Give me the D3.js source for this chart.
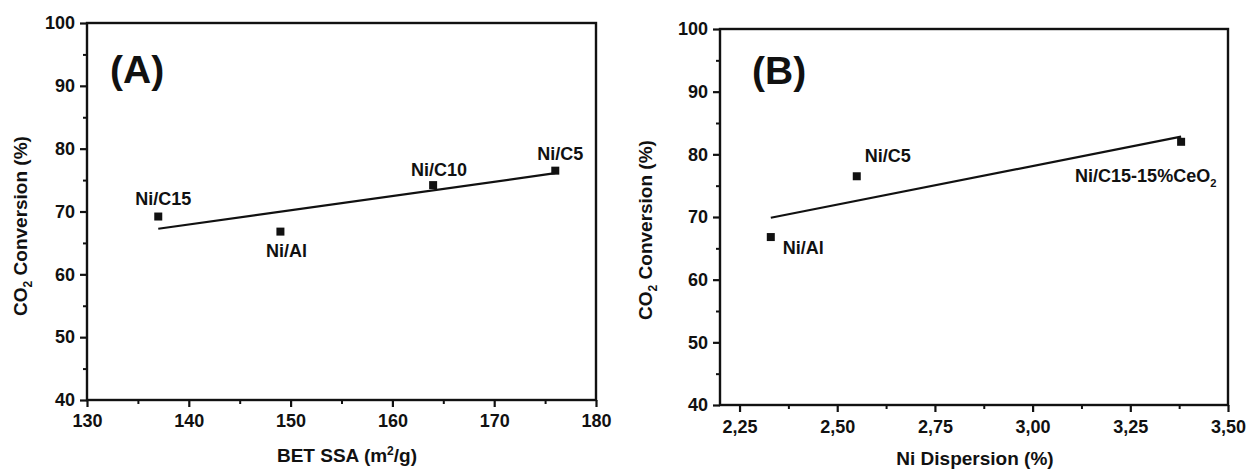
<!DOCTYPE html>
<html>
<head>
<meta charset="utf-8">
<script src="https://cdn.jsdelivr.net/npm/d3@7"></script>
<style>
  html, body { margin: 0; padding: 0; background: #ffffff; }
  svg { display: block; }
  text { font-family: "Liberation Sans", Arial, sans-serif; font-weight: bold; fill: #111; }
</style>
</head>
<body>
<svg id="chart" width="1249" height="470"></svg>
<script>
// ---------------- data ----------------
const samplesA = ["Ni/C15", "Ni/Al", "Ni/C10", "Ni/C5"];
const betSSA = [137, 149, 164, 176];
const conversionA = [69.2, 66.8, 74.2, 76.5];

const samplesB = ["Ni/Al", "Ni/C5", "Ni/C15-15%CeO2"];
const niDispersion = [2.33, 2.55, 3.38];
const conversionB = [66.8, 76.5, 82.0];

const yTicks = [40, 50, 60, 70, 80, 90, 100];
const yMinorTicks = [45, 55, 65, 75, 85, 95];
const xTicksA = [130, 140, 150, 160, 170, 180];
const xMinorTicksA = [135, 145, 155, 165, 175];
const xTicksB = [2.25, 2.50, 2.75, 3.00, 3.25, 3.50];
const xMinorTicksB = [2.375, 2.625, 2.875, 3.125, 3.375];

// ---------------- helpers ----------------
const svg = d3.select("#chart");
const commaFmt = d3.formatLocale({decimal: ",", thousands: ".", grouping: [3], currency: ["", ""]}).format(".2f");

function linReg(xs, ys) {
  const mx = d3.mean(xs), my = d3.mean(ys);
  let sxy = 0, sxx = 0;
  xs.forEach((x, i) => { sxy += (x - mx) * (ys[i] - my); sxx += (x - mx) * (x - mx); });
  const b = sxy / sxx;
  return x => my + b * (x - mx);
}

const TICK_FS = 18, LABEL_FS = 18, TITLE_FS = 19;

function drawPanel(cfg) {
  const g = svg.append("g");
  const x = d3.scaleLinear().domain(cfg.xDomain).range([cfg.left, cfg.right]);
  const y = d3.scaleLinear().domain([40, 100]).range([cfg.bottom, cfg.top]);

  // minor ticks
  g.append("g").attr("transform", `translate(0,${cfg.bottom})`)
    .call(d3.axisBottom(x).tickValues(cfg.xMinor).tickSize(4).tickSizeOuter(0).tickFormat(""))
    .call(a => a.select(".domain").remove())
    .call(a => a.selectAll("line").attr("stroke", "#111").attr("stroke-width", 2));
  g.append("g").attr("transform", `translate(${cfg.left},0)`)
    .call(d3.axisLeft(y).tickValues(yMinorTicks).tickSize(4).tickSizeOuter(0).tickFormat(""))
    .call(a => a.select(".domain").remove())
    .call(a => a.selectAll("line").attr("stroke", "#111").attr("stroke-width", 2));

  // major ticks
  g.append("g").attr("transform", `translate(0,${cfg.bottom})`)
    .call(d3.axisBottom(x).tickValues(cfg.xTicks).tickSize(7).tickPadding(cfg.xPad).tickSizeOuter(0).tickFormat(cfg.xFormat))
    .call(a => a.select(".domain").remove())
    .call(a => a.selectAll("line").attr("stroke", "#111").attr("stroke-width", 2.2))
    .call(a => a.selectAll("text").attr("font-size", TICK_FS).attr("font-family", "Liberation Sans, Arial, sans-serif").attr("font-weight", "bold").attr("fill", "#111"));
  g.append("g").attr("transform", `translate(${cfg.left},0)`)
    .call(d3.axisLeft(y).tickValues(yTicks).tickSize(7).tickPadding(5).tickSizeOuter(0))
    .call(a => a.select(".domain").remove())
    .call(a => a.selectAll("line").attr("stroke", "#111").attr("stroke-width", 2.2))
    .call(a => a.selectAll("text").attr("font-size", TICK_FS).attr("font-family", "Liberation Sans, Arial, sans-serif").attr("font-weight", "bold").attr("fill", "#111"));

  // frame
  g.append("rect")
    .attr("x", cfg.left).attr("y", cfg.top)
    .attr("width", cfg.right - cfg.left).attr("height", cfg.bottom - cfg.top)
    .attr("fill", "none").attr("stroke", "#111").attr("stroke-width", 2.4);

  // fit line
  const f = linReg(cfg.xs, cfg.ys);
  const x0 = d3.min(cfg.xs), x1 = d3.max(cfg.xs);
  g.append("line")
    .attr("x1", x(x0)).attr("y1", y(f(x0)))
    .attr("x2", x(x1)).attr("y2", y(f(x1)))
    .attr("stroke", "#111").attr("stroke-width", 2.2);

  // points
  const sz = 8;
  g.selectAll("rect.pt").data(cfg.xs).join("rect").attr("class", "pt")
    .attr("x", (d) => x(d) - sz / 2)
    .attr("y", (d, i) => y(cfg.ys[i]) - sz / 2)
    .attr("width", sz).attr("height", sz).attr("fill", "#111");

  // point labels
  cfg.names.forEach((name, i) => {
    const o = cfg.labelOff[i];
    const t = g.append("text")
      .attr("x", x(cfg.xs[i]) + o[0]).attr("y", y(cfg.ys[i]) + o[1])
      .attr("text-anchor", o[2]).attr("font-size", LABEL_FS);
    if (name.endsWith("CeO2")) {
      t.append("tspan").text(name.slice(0, -1));
      t.append("tspan").attr("font-size", LABEL_FS * 0.62).attr("dy", 5).text("2");
    } else {
      t.text(name);
    }
  });

  // panel letter
  g.append("text").attr("x", cfg.letterX).attr("y", cfg.letterY)
    .attr("font-size", 39).text(cfg.letter);

  // x title
  const xt = g.append("text").attr("x", cfg.xTitleX).attr("y", cfg.xTitleY)
    .attr("text-anchor", "middle").attr("font-size", TITLE_FS);
  cfg.xTitle(xt);

  // y title
  const yt = g.append("text")
    .attr("transform", `translate(${cfg.yTitleX},${cfg.yTitleY}) rotate(-90)`)
    .attr("text-anchor", "middle").attr("font-size", TITLE_FS);
  yt.append("tspan").text("CO");
  yt.append("tspan").attr("font-size", 12).attr("dy", 5).text("2");
  yt.append("tspan").attr("dy", -5).text(" Conversion (%)");
}

drawPanel({
  left: 87, right: 596, top: 23, bottom: 400,
  xDomain: [130, 180], xTicks: xTicksA, xMinor: xMinorTicksA, xPad: 7,
  xFormat: d3.format("d"),
  xs: betSSA, ys: conversionA, names: samplesA,
  labelOff: [[5, -12, "middle"], [6, 25, "middle"], [6, -9, "middle"], [5, -11, "middle"]],
  letter: "(A)", letterX: 110, letterY: 83,
  xTitleX: 347, xTitleY: 462,
  xTitle: t => {
    t.append("tspan").text("BET SSA (m");
    t.append("tspan").attr("font-size", 12).attr("dy", -7).text("2");
    t.append("tspan").attr("dy", 7).text("/g)");
  },
  yTitleX: 27, yTitleY: 226
});

drawPanel({
  left: 720, right: 1228, top: 29, bottom: 405,
  xDomain: [2.2, 3.5], xTicks: xTicksB, xMinor: xMinorTicksB, xPad: 8,
  xFormat: commaFmt,
  xs: niDispersion, ys: conversionB, names: samplesB,
  labelOff: [[12, 17, "start"], [8, -14, "start"], [-106, 40, "start"]],
  letter: "(B)", letterX: 752, letterY: 84,
  xTitleX: 975, xTitleY: 465,
  xTitle: t => { t.text("Ni Dispersion (%)"); },
  yTitleX: 652, yTitleY: 230
});
</script>
</body>
</html>
